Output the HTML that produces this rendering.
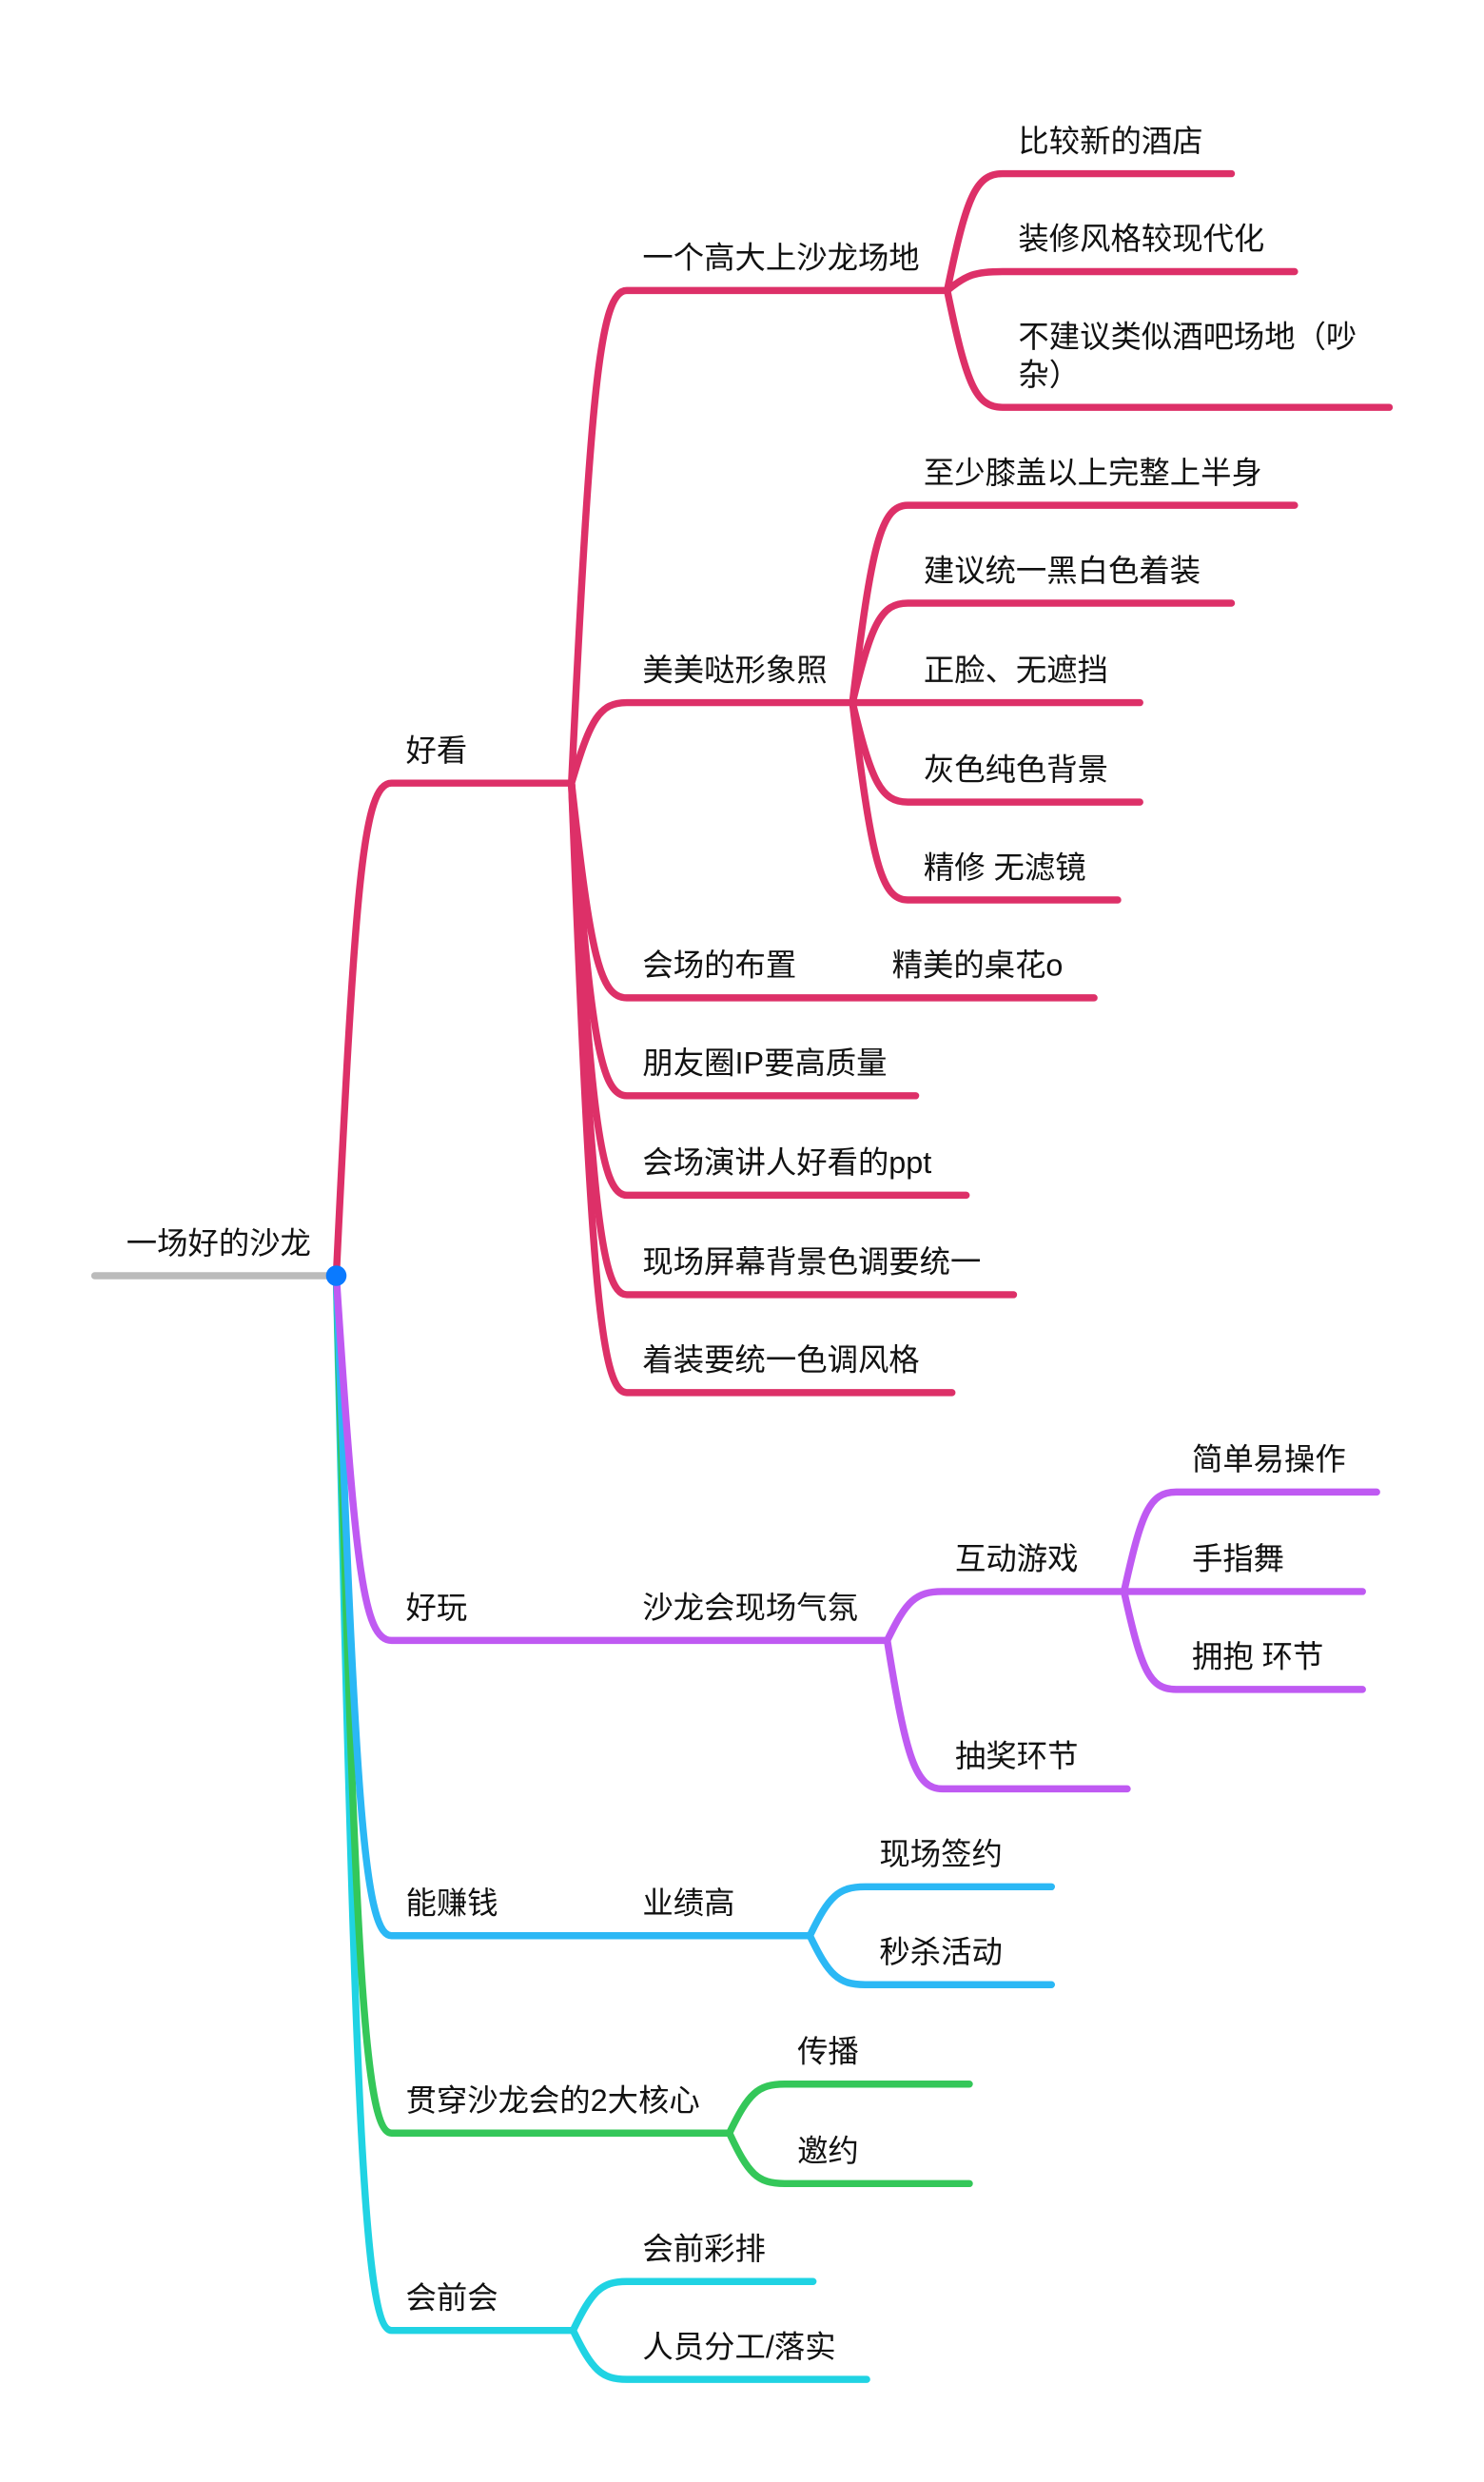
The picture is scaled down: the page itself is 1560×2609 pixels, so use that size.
<!DOCTYPE html>
<html><head><meta charset="utf-8"><style>
html,body{margin:0;padding:0;background:#fff;}
svg{display:block;}
text{font-family:"Liberation Sans","Noto Sans CJK SC",sans-serif;font-size:19.5px;fill:#111;}
path{fill:none;stroke-linecap:round;stroke-linejoin:round;stroke-width:4.5;}
.p{stroke:#dd3068}.v{stroke:#bf5af2}.b{stroke:#2bb8f5}.g{stroke:#34c759}.c{stroke:#20d3e3}
</style></head><body>
<svg width="1560" height="2609" viewBox="0 0 940 1572" preserveAspectRatio="none">
<path d="M60 808 L213 808" style="stroke:#bbb"/>
<path class="c" d="M213 808 C225 1331 230 1476 248 1476 L363 1476"/>
<path class="g" d="M213 808 C225 1231 230 1351 248 1351 L462 1351"/>
<path class="b" d="M213 808 C225 1131 230 1226 248 1226 L513 1226"/>
<path class="v" d="M213 808 C225 992 230 1039 248 1039 L562 1039"/>
<path class="p" d="M213 808 C225 558 230 496 248 496 L362 496"/>

<path class="p" d="M362 496 C374 246 380 184 397 184 L600 184"/>
<path class="p" d="M362 496 C374 455 380 445 397 445 L540 445"/>
<path class="p" d="M362 496 C374 605 380 632 397 632 L693 632"/>
<path class="p" d="M362 496 C374 654 380 694 397 694 L580 694"/>
<path class="p" d="M362 496 C374 704 380 757 397 757 L612 757"/>
<path class="p" d="M362 496 C374 755 380 820 397 820 L642 820"/>
<path class="p" d="M362 496 C374 805 380 882 397 882 L603 882"/>

<path class="p" d="M600 184 C612 125 618 110 635 110 L780 110"/>
<path class="p" d="M600 184 C612 174 618 172 635 172 L820 172"/>
<path class="p" d="M600 184 C612 243 618 258 635 258 L880 258"/>

<path class="p" d="M540 445 C552 345 558 320 575 320 L820 320"/>
<path class="p" d="M540 445 C552 395 558 382 575 382 L780 382"/>
<path class="p" d="M540 445 L722 445"/>
<path class="p" d="M540 445 C552 495 558 508 575 508 L722 508"/>
<path class="p" d="M540 445 C552 545 558 570 575 570 L708 570"/>

<path class="v" d="M562 1039 C574 1014 580 1008 597 1008 L712 1008"/>
<path class="v" d="M562 1039 C574 1114 580 1133 597 1133 L714 1133"/>
<path class="v" d="M712 1008 C723 958 728 945 745 945 L872 945"/>
<path class="v" d="M712 1008 L863 1008"/>
<path class="v" d="M712 1008 C723 1058 728 1070 745 1070 L863 1070"/>

<path class="b" d="M513 1226 C525 1201 531 1195 548 1195 L666 1195"/>
<path class="b" d="M513 1226 C525 1251 531 1257 548 1257 L666 1257"/>

<path class="g" d="M462 1351 C474 1326 480 1320 497 1320 L614 1320"/>
<path class="g" d="M462 1351 C474 1377 480 1383 497 1383 L614 1383"/>

<path class="c" d="M363 1476 C375 1451 381 1445 397 1445 L515 1445"/>
<path class="c" d="M363 1476 C375 1501 381 1507 397 1507 L549 1507"/>
<circle cx="213" cy="808" r="6.5" fill="#0a7aff"/>

<text x="80" y="794">一场好的沙龙</text>
<text x="257" y="482">好看</text>
<text x="257" y="1025">好玩</text>
<text x="257" y="1212">能赚钱</text>
<text x="257" y="1337">贯穿沙龙会的2大核心</text>
<text x="257" y="1462">会前会</text>
<text x="407" y="170">一个高大上沙龙场地</text>
<text x="407" y="431">美美哒形象照</text>
<text x="407" y="618">会场的布置</text>
<text x="565" y="618">精美的桌花o</text>
<text x="407" y="680">朋友圈IP要高质量</text>
<text x="407" y="743">会场演讲人好看的ppt</text>
<text x="407" y="806">现场屏幕背景色调要统一</text>
<text x="407" y="868">着装要统一色调风格</text>
<text x="645" y="96">比较新的酒店</text>
<text x="645" y="158">装修风格较现代化</text>
<text x="645" y="220">不建议类似酒吧场地（吵</text>
<text x="645" y="244">杂）</text>
<text x="585" y="306">至少膝盖以上完整上半身</text>
<text x="585" y="368">建议统一黑白色着装</text>
<text x="585" y="431">正脸、无遮挡</text>
<text x="585" y="494">灰色纯色背景</text>
<text x="585" y="556">精修 无滤镜</text>
<text x="407" y="1025">沙龙会现场气氛</text>
<text x="605" y="994">互动游戏</text>
<text x="605" y="1119">抽奖环节</text>
<text x="755" y="931">简单易操作</text>
<text x="755" y="994">手指舞</text>
<text x="755" y="1056">拥抱 环节</text>
<text x="407" y="1212">业绩高</text>
<text x="557" y="1181">现场签约</text>
<text x="557" y="1243">秒杀活动</text>
<text x="505" y="1306">传播</text>
<text x="505" y="1369">邀约</text>
<text x="407" y="1431">会前彩排</text>
<text x="407" y="1493">人员分工/落实</text>
</svg>
</body></html>
